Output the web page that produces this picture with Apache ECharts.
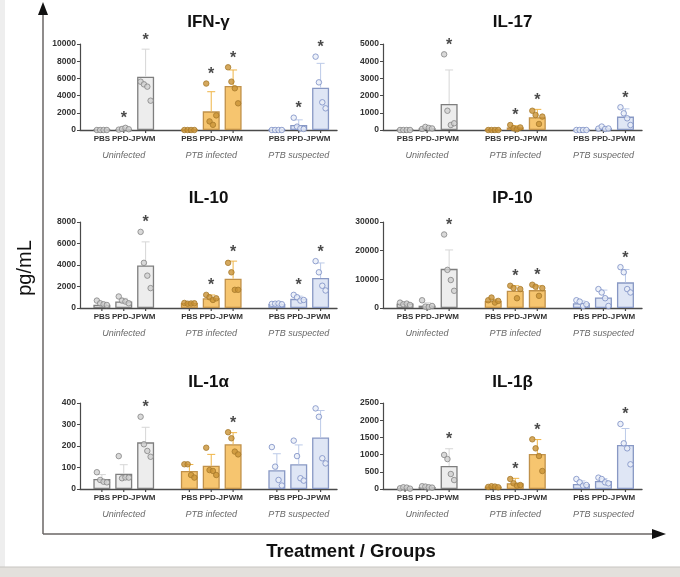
<!DOCTYPE html>
<html>
<head>
<meta charset="utf-8">
<script src="https://cdn.jsdelivr.net/npm/echarts@6/dist/echarts.min.js"></script>
<style>
html, body { margin: 0; padding: 0; background: #fff; }
#chart { width: 680px; height: 577px; }
</style>
</head>
<body>
<div id="chart"></div>
<script>
// categories
var treatments = ['PBS', 'PPD-J', 'PWM'];
var groups = ['Uninfected', 'PTB infected', 'PTB suspected'];
var cytokines = ['IFN-γ', 'IL-17', 'IL-10', 'IP-10', 'IL-1α', 'IL-1β'];
var yMax = [10000, 5000, 8000, 30000, 400, 2500];
var yStep = [2000, 1000, 2000, 10000, 100, 500];

// values, 9 bars per panel: (PBS, PPD-J, PWM) x (Uninfected, PTB infected, PTB suspected)
var ifnMean = [0, 80, 6200, 0, 2170, 5120, 0, 580, 4920];
var ifnSd = [0, 60, 3200, 0, 2280, 1860, 0, 600, 2830];
var ifnPts = [[0, 0, 0, 0], [40, 120, 250, 90], [5620, 5310, 5040, 3410],
  [0, 0, 0, 0], [5400, 1000, 600, 1700], [7290, 5620, 4850, 3100],
  [0, 0, 0, 0], [1430, 390, 190, 120], [8530, 5540, 3220, 2520]];
var ifnStar = [0, 1, 1, 0, 1, 1, 0, 1, 1];

var il17Mean = [0, 100, 1510, 0, 150, 740, 0, 100, 780];
var il17Sd = [0, 60, 1980, 0, 100, 460, 0, 70, 450];
var il17Pts = [[0, 0, 0, 0], [60, 180, 120, 90], [4400, 1120, 290, 390],
  [0, 0, 0, 0], [290, 100, 40, 150], [1120, 870, 350, 780],
  [0, 0, 0, 0], [80, 200, 60, 90], [1320, 970, 680, 290]];
var il17Star = [0, 0, 1, 0, 1, 1, 0, 0, 1];

var il10Mean = [300, 600, 3950, 470, 910, 2730, 380, 850, 2790];
var il10Sd = [200, 300, 2200, 60, 300, 1630, 50, 250, 1400];
var il10Pts = [[690, 440, 345, 280], [1070, 690, 600, 440], [7080, 4200, 3010, 1850],
  [470, 400, 420, 440], [1220, 1000, 750, 900], [4200, 3320, 1690, 1690],
  [380, 400, 420, 350], [1220, 1000, 690, 750], [4360, 3320, 2070, 1630]];
var il10Star = [0, 0, 1, 0, 1, 1, 0, 1, 1];

var ip10Mean = [1530, 820, 13650, 2470, 6000, 6240, 1650, 3650, 8940];
var ip10Sd = [400, 1000, 6600, 600, 1760, 1500, 800, 2600, 4500];
var ip10Pts = [[1880, 1290, 1530, 1060], [2700, 470, 350, 700], [25650, 13300, 9760, 6000],
  [2700, 3650, 1880, 2470], [7760, 6940, 3410, 6600], [8120, 7410, 4240, 6940],
  [2700, 2240, 700, 1300], [6600, 5410, 3410, 700], [14240, 12470, 6600, 5410]];
var ip10Star = [0, 0, 1, 0, 1, 1, 0, 0, 1];

var il1aMean = [47, 71, 217, 84, 108, 208, 87, 115, 240];
var il1aSd = [20, 42, 70, 30, 53, 54, 77, 90, 125];
var il1aPts = [[78, 42, 34, 31], [153, 50, 54, 53], [336, 208, 177, 150],
  [115, 115, 65, 53], [192, 88, 84, 65], [264, 236, 174, 161],
  [195, 104, 42, 16], [225, 153, 50, 39], [375, 336, 143, 119]];
var il1aStar = [0, 0, 1, 0, 0, 1, 0, 0, 0];

var il1bMean = [30, 60, 670, 70, 170, 1017, 145, 232, 1279];
var il1bSd = [20, 25, 500, 15, 140, 420, 90, 70, 480];
var il1bPts = [[20, 50, 40, 10], [80, 70, 50, 40], [990, 870, 436, 260],
  [60, 80, 70, 50], [290, 165, 97, 116], [1444, 1182, 959, 523],
  [290, 194, 97, 116], [330, 290, 194, 165], [1890, 1328, 1182, 717]];
var il1bStar = [0, 0, 1, 0, 1, 1, 0, 0, 1];

var panels = [
  { mean: ifnMean, sd: ifnSd, pts: ifnPts, star: ifnStar },
  { mean: il17Mean, sd: il17Sd, pts: il17Pts, star: il17Star },
  { mean: il10Mean, sd: il10Sd, pts: il10Pts, star: il10Star },
  { mean: ip10Mean, sd: ip10Sd, pts: ip10Pts, star: ip10Star },
  { mean: il1aMean, sd: il1aSd, pts: il1aPts, star: il1aStar },
  { mean: il1bMean, sd: il1bSd, pts: il1bPts, star: il1bStar }
];

// layout + styles
var grids = [
  { left: 80, right: 343, top: 44, bottom: 447 },
  { left: 383, right: 38, top: 44, bottom: 447 },
  { left: 80, right: 343, top: 222, bottom: 269 },
  { left: 383, right: 38, top: 222, bottom: 269 },
  { left: 80, right: 343, top: 403, bottom: 88 },
  { left: 383, right: 38, top: 403, bottom: 88 }
];
var titleTop = [14, 14, 190, 190, 374, 374];
var barFill = ['#ededed', '#f6c56f', '#dfe6f5'];
var barLine = ['#7e7e7e', '#c0914a', '#8898c4'];
var errColor = ['#d6d6d6', '#efb446', '#bccae8'];
var ptFill = ['#cfcfcf', '#c99236', '#e8edf8'];
var ptLine = ['#858585', '#a87a2c', '#7a8dc4'];
var jitter = [-5, -1.7, 1.7, 5];
var font = '"Liberation Sans", Arial, sans-serif';

function slot(j) { return j + Math.floor(j / 3); } // leave a gap between groups

function slotLabel(v) {
  if (Math.round(v) !== v || v < 0 || v % 4 === 3) return '';
  var t = treatments[v % 4];
  if (v % 4 === 1) return t + '\n{g|' + groups[Math.floor(v / 4)] + '}';
  return t;
}

var option = {
  backgroundColor: '#ffffff',
  animation: false,
  textStyle: { fontFamily: font },
  title: [],
  grid: grids,
  xAxis: [],
  yAxis: [],
  series: [],
  graphic: [
    { type: 'rect', shape: { x: 0, y: 0, width: 5, height: 577 }, style: { fill: '#eeeeee' }, silent: true },
    { type: 'rect', shape: { x: 0, y: 567, width: 680, height: 10 }, style: { fill: '#e3e0dc' }, silent: true },
    { type: 'line', shape: { x1: 0, y1: 567, x2: 680, y2: 567 }, style: { stroke: '#c8c5c1', lineWidth: 1 }, silent: true },
    { type: 'line', shape: { x1: 43, y1: 12, x2: 43, y2: 534 }, style: { stroke: '#6a6664', lineWidth: 1.5 }, silent: true },
    { type: 'polygon', shape: { points: [[43, 2], [38, 15], [48, 15]] }, style: { fill: '#111' }, silent: true },
    { type: 'line', shape: { x1: 43, y1: 534, x2: 654, y2: 534 }, style: { stroke: '#6a6664', lineWidth: 1.5 }, silent: true },
    { type: 'polygon', shape: { points: [[666, 534], [652, 529], [652, 539]] }, style: { fill: '#111' }, silent: true },
    { type: 'text', x: 25, y: 268, rotation: Math.PI / 2, silent: true,
      style: { text: 'pg/mL', fontSize: 20, fontFamily: font, fill: '#111', align: 'center', verticalAlign: 'middle' } },
    { type: 'text', x: 351, y: 552, silent: true,
      style: { text: 'Treatment / Groups', fontSize: 18.5, fontWeight: 'bold', fontFamily: font, fill: '#111', align: 'center', verticalAlign: 'middle' } }
  ]
};

panels.forEach(function (p, i) {
  var g = grids[i];
  var cx = g.left + (680 - g.left - g.right) / 2;
  option.title.push({
    text: cytokines[i], left: cx, top: titleTop[i], textAlign: 'center', padding: 0,
    textStyle: { fontSize: 17, fontWeight: 'bold', color: '#111', fontFamily: font }
  });
  option.xAxis.push({
    type: 'value', gridIndex: i, min: -1, max: 10.75, interval: 1,
    splitLine: { show: false }, axisTick: { show: false },
    axisLine: { onZero: false, lineStyle: { color: '#4a4a4a', width: 1.4 } },
    axisLabel: {
      formatter: slotLabel, fontSize: 8, fontWeight: 'bold', color: '#333', margin: 4,
      showMinLabel: true, showMaxLabel: true, lineHeight: 10,
      rich: { g: { fontSize: 9, fontStyle: 'italic', fontWeight: 'normal', color: '#6a6a6a', lineHeight: 23 } }
    }
  });
  option.yAxis.push({
    type: 'value', gridIndex: i, min: 0, max: yMax[i], interval: yStep[i],
    splitLine: { show: false },
    axisLine: { show: true, onZero: false, lineStyle: { color: '#4a4a4a', width: 1.2 } },
    axisTick: { show: true, length: 3, lineStyle: { color: '#4a4a4a' } },
    axisLabel: { fontSize: 8.5, fontWeight: 'bold', color: '#333', margin: 4, formatter: function (v) { return String(v); } }
  });

  option.series.push({
    type: 'bar', xAxisIndex: i, yAxisIndex: i, barWidth: 17, silent: true, z: 2,
    data: p.mean.map(function (m, j) {
      var k = Math.floor(j / 3);
      return { value: [slot(j), m], itemStyle: { color: barFill[k], borderColor: barLine[k], borderWidth: 1.3 } };
    })
  });

  option.series.push({
    type: 'custom', xAxisIndex: i, yAxisIndex: i, silent: true, z: 3, clip: false,
    data: p.mean.map(function (m, j) { return [slot(j), m, p.sd[j], Math.floor(j / 3)]; }),
    renderItem: function (params, api) {
      var x = api.value(0), m = api.value(1), s = api.value(2), k = api.value(3);
      var base = api.coord([x, 0]);
      var kids = [{ type: 'line', shape: { x1: base[0], y1: base[1], x2: base[0], y2: base[1] + 3 },
        style: { stroke: '#4a4a4a', lineWidth: 1.2 } }];
      if (s > 0) {
        var a = api.coord([x, m]), b = api.coord([x, m + s]);
        kids.push({ type: 'line', shape: { x1: a[0], y1: a[1], x2: b[0], y2: b[1] }, style: { stroke: errColor[k], lineWidth: 1 } });
        kids.push({ type: 'line', shape: { x1: b[0] - 4, y1: b[1], x2: b[0] + 4, y2: b[1] }, style: { stroke: errColor[k], lineWidth: 1 } });
      }
      return { type: 'group', children: kids };
    }
  });

  var pts = [];
  p.pts.forEach(function (arr, j) {
    var k = Math.floor(j / 3);
    arr.forEach(function (v, n) {
      pts.push({ value: [slot(j), v], symbolOffset: [jitter[n], 0],
        itemStyle: { color: ptFill[k], borderColor: ptLine[k], borderWidth: 1 } });
    });
  });
  option.series.push({
    type: 'scatter', xAxisIndex: i, yAxisIndex: i, symbol: 'circle', symbolSize: 5.5,
    silent: true, z: 4, clip: false, data: pts
  });

  var stars = [];
  p.star.forEach(function (s, j) {
    if (!s) return;
    var top = Math.max(p.mean[j] + p.sd[j], Math.max.apply(null, p.pts[j]));
    stars.push([slot(j), top]);
  });
  option.series.push({
    type: 'scatter', xAxisIndex: i, yAxisIndex: i, symbolSize: 0, silent: true, z: 5, clip: false,
    data: stars,
    label: { show: true, position: 'inside', offset: [0, -9], formatter: '*', fontSize: 16,
      fontWeight: 'bold', color: '#1a1a1a', fontFamily: font }
  });
});

echarts.init(document.getElementById('chart')).setOption(option);
</script>
</body>
</html>
